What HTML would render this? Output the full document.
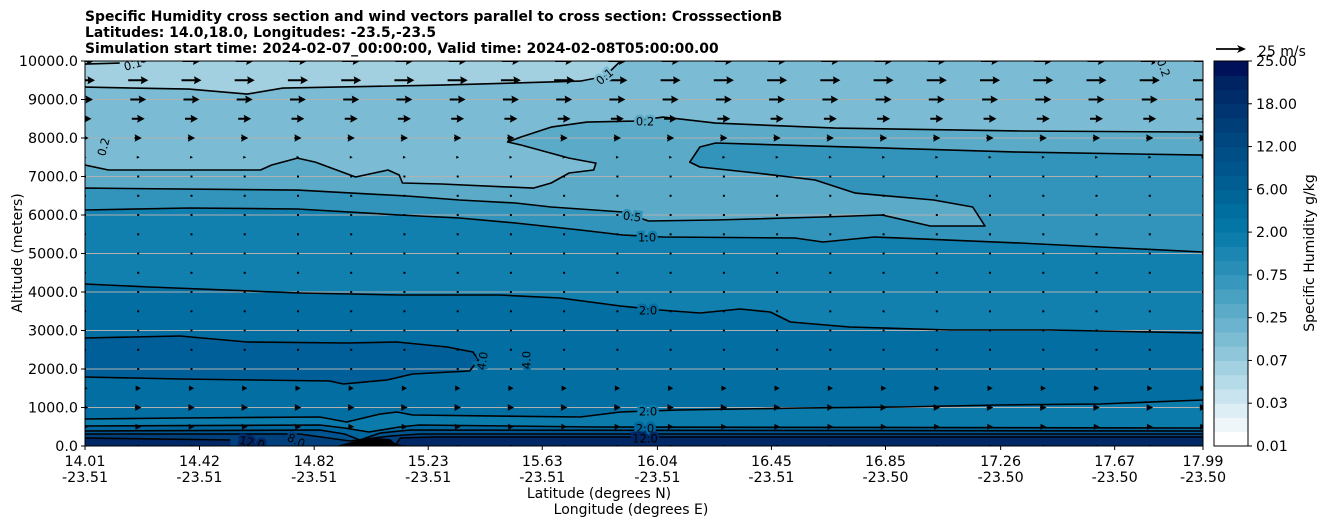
<!DOCTYPE html>
<html><head><meta charset="utf-8"><style>
html,body{margin:0;padding:0;background:#fff;width:1326px;height:526px;overflow:hidden}
svg{display:block;font-family:"DejaVu Sans","Liberation Sans",sans-serif}
</style></head><body>
<svg id="chart" width="1326" height="526" viewBox="0 0 1326 526" xmlns="http://www.w3.org/2000/svg">
<g font-size="13.9" font-weight="bold" fill="#000">
<text x="85" y="21">Specific Humidity cross section and wind vectors parallel to cross section: CrosssectionB</text>
<text x="85" y="37">Latitudes: 14.0,18.0, Longitudes: -23.5,-23.5</text>
<text x="85" y="53">Simulation start time: 2024-02-07_00:00:00, Valid time: 2024-02-08T05:00:00.00</text>
</g>
<defs><clipPath id="plotclip"><rect x="85" y="61" width="1118" height="385"/></clipPath></defs>
<g id="plot" clip-path="url(#plotclip)"></g>
<rect x="85" y="61" width="1118" height="385" fill="none" stroke="#000" stroke-width="1"/>
<g id="axes"></g>
<g id="cbar"></g>
<text x="599" y="498" font-size="14" text-anchor="middle">Latitude (degrees N)</text>
<text x="631" y="514" font-size="14" text-anchor="middle">Longitude (degrees E)</text>
<text transform="translate(22,253) rotate(-90)" font-size="14" text-anchor="middle">Altitude (meters)</text>
<text transform="translate(1314,253) rotate(-90)" font-size="14" text-anchor="middle">Specific Humidity g/kg</text>
<g>
<polygon points="1216,48.1 1239,48.1 1237,45 1246,49 1237,53 1239,49.9 1216,49.9" fill="#000"/>
<text x="1258" y="56" font-size="14">25 m/s</text>
</g>
</svg>
<script>
// ---- data ----
const yTicks = [0,1000,2000,3000,4000,5000,6000,7000,8000,9000,10000];
const xTickPos = [0,10.24,20.5,30.7,40.9,51.2,61.4,71.6,81.9,92.1,100];
const xTickLat = ["14.01","14.42","14.82","15.23","15.63","16.04","16.45","16.85","17.26","17.67","17.99"];
const xTickLon = ["-23.51","-23.51","-23.51","-23.51","-23.51","-23.51","-23.51","-23.50","-23.50","-23.50","-23.50"];
const cbarLevels = [0.01,0.015,0.02,0.03,0.04,0.05,0.07,0.1,0.2,0.25,0.3,0.5,0.75,1,1.5,2,3,4,6,8,10,12,14,16,18,20,22,25];
const cbarTickLabels = ["0.01","0.03","0.07","0.25","0.75","2.00","6.00","12.00","18.00","25.00"];
const cbarColors = ["#ffffff","#eef6f9","#ddeef4","#c9e4ee","#b6dbe8","#a3d1e1","#8fc6da","#7dbdd4","#6bb3ce","#5aaac8","#49a1c2","#3897bc","#288eb6","#1a86b1","#0d7eac","#0376a6","#006e9f","#006698","#005e92","#00568c","#004e86","#00467f","#003e78","#003571","#002c69","#002362","#00115a"];
// contour lines: [section %, altitude m]
const c01 = [[0,9323],[9.3,9271],[14.5,9141],[17.7,9297],[31.9,9375],[44.3,9479],[46.5,9600],[47.9,10000]];
const c01b = [[0,9920],[3.1,9946]];
const c02 = [[0,7298],[2.1,7168],[9.3,7168],[15.7,7168],[16.7,7298],[19.0,7479],[20.6,7375],[24.2,6986],[27.1,7168],[28.1,7038],[28.4,6830],[31.9,6804],[40.1,6700],[41.7,6830],[43.3,7090],[45.5,7168],[45.7,7349],[43.3,7479],[39.0,7817],[37.8,7895],[39.0,8025],[41.7,8284],[44.9,8414],[49.1,8440],[51.7,8544],[56.4,8388],[67.1,8258],[83.6,8181],[100,8154]];
const c05 = [[0,6700],[19,6648],[28.8,6493],[33.5,6389],[38.5,6311],[41.7,6207],[48.1,6077],[50.4,5843],[56.4,5869],[66.0,5947],[71.3,5999],[75.6,5713],[80.5,5713],[79.4,6207],[75.9,6389],[68.9,6570],[65.3,6908],[60.0,7090],[55.0,7246],[54.1,7375],[55.0,7765],[56.4,7869],[83.6,7635],[100,7557]];
const c10 = [[0,6129],[9.3,6181],[19,6155],[28.1,5999],[33.5,5921],[38.5,5791],[44.3,5610],[48.1,5480],[51.7,5428],[63.5,5402],[66.0,5298],[70.6,5428],[83.6,5272],[90.8,5168],[100,5038]];
const c20 = [[0,4207],[5.8,4129],[19.2,3973],[28.2,3921],[37.1,3921],[42.5,3844],[47.9,3636],[51.4,3532],[55.0,3454],[58.6,3558],[61.3,3480],[63.1,3220],[68.4,3090],[77.4,3013],[86.3,3013],[95.3,2961],[100,2935]];
const c40 = [[0,2805],[8.5,2857],[14.5,2701],[23.4,2675],[27.9,2701],[32.4,2571],[34.7,2441],[35.2,2233],[34.4,1948],[29.3,1870],[27.0,1714],[23.1,1610],[21.9,1688],[8.5,1740],[0,1792]];
const c20b = [[0,701],[8.5,727],[21.0,753],[23.4,623],[26.4,831],[27.9,883],[29.3,805],[44.3,753],[47.9,883],[53.2,935],[64.0,987],[72.9,1013],[81.8,1065],[90.8,1091],[100,1195]];
const cL1 = [[0,519],[21.0,545],[23.2,467],[25.4,363],[28.1,493],[29.9,545],[45.8,493],[100,467]];
const cL2 = [[0,389],[21.0,415],[23.2,311],[24.6,156],[26.4,337],[29.1,415],[100,389]];
const cL3 = [[0,311],[19.2,311],[23.7,130],[27.3,259],[30.0,311],[100,311]];
const cL4a = [[0,207],[13.0,156]];
const cL4b = [[27.7,0],[28.2,207],[31.0,234],[100,234]];
const terrain = [[22.4,0],[24.6,156],[25.9,208],[27.3,182],[27.7,78],[28.6,0]];
// wind vectors (m/s along section)
const windAlts = [10000,9500,9000,8500,8000,7500,7000,6500,6000,5500,5000,4500,4000,3500,3000,2500,2000,1500,1000,500,0];
const windSpeeds = [15,16.7,13.3,10.8,6,2.5,1.5,1,1,1,1,0.8,0.8,0.8,0.8,0.8,1.5,4.5,5.5,5,1];
const windCols = 22;
// ---- scales ----
const X = p => 85 + p*11.18;
const Y = a => 446 - a*0.0385;
const NS = "http://www.w3.org/2000/svg";
const plot = document.getElementById('plot');
function mk(tag, attrs, parent){const e=document.createElementNS(NS,tag);for(const k in attrs)e.setAttribute(k,attrs[k]);parent.appendChild(e);return e;}
const pts = arr => arr.map(d=>X(d[0]).toFixed(1)+","+Y(d[1]).toFixed(1)).join(" ");

// fills
let e;
e = mk('rect',{x:85,y:61,width:1118,height:385,fill:'#a3d0e1'},plot);


const fills = [
 [c01.concat([[100,10000],[100,0],[0,0]]),'#7bbbd4','fill-0.1-0.2'],
 [c02.concat([[100,0],[0,0]]),'#5aaac8','fill-0.2-0.5'],
 [c05.concat([[100,0],[0,0]]),'#3294bb','fill-0.5-1.0'],
 [c10.concat([[100,0],[0,0]]),'#1280af','fill-1.0-2.0'],
 [c20.concat([[100,0],[0,0]]),'#026ea2','fill-2.0-4.0'],
 [c40,'#005f98','fill-4.0-6.0'],
 [c20b.concat([[100,0],[0,0]]),'#0b7bab','fill-low-level'],
 [cL1.concat([[100,0],[0,0]]),'#00669e','fill-surface-1'],
 [cL2.concat([[100,0],[0,0]]),'#005590','fill-surface-2'],
 [cL3.concat([[100,0],[0,0]]),'#00417d','fill-surface-3'],
 [cL4b.concat([[100,0]]),'#002766','fill-surface-4b'],
 [cL4a.concat([[13,0],[0,0]]),'#002766','fill-surface-4a']
];
fills.forEach(f=>{
 const el = mk('polygon',{points:pts(f[0]),fill:f[1]},plot);
 
 
});
// gridlines
yTicks.forEach(t=>{
 const g = mk('line',{x1:85,x2:1203,y1:Y(t),y2:Y(t),stroke:'#b0b0b0','stroke-width':1},plot);
 
 
});
// wind arrows (pivot middle)
const pxPerMs = 1.2, w = 2, hl = 7.5, hal = 6.8, hw = 4;
windAlts.forEach((alt,ri)=>{
 const L = windSpeeds[ri]*pxPerMs;
 for(let k=0;k<windCols;k++){
  const xc = 85 + k*1118/(windCols-1), y0 = Y(alt);
  const x0 = xc - L/2;
  let p;
  if(L < 2){ p = [[xc-1,y0-1],[xc+1,y0-1],[xc+1,y0+1],[xc-1,y0+1]]; }
  else if(L < hl){ const s=L/hl; p=[[x0,y0-w/2*s],[x0+(L-hal*s),y0-w/2*s],[x0+L-hl*s,y0-hw*s],[x0+L,y0],[x0+L-hl*s,y0+hw*s],[x0+(L-hal*s),y0+w/2*s],[x0,y0+w/2*s]]; }
  else { p=[[x0,y0-w/2],[x0+L-hal,y0-w/2],[x0+L-hl,y0-hw],[x0+L,y0],[x0+L-hl,y0+hw],[x0+L-hal,y0+w/2],[x0,y0+w/2]]; }
  const a = mk('polygon',{points:p.map(q=>q[0].toFixed(1)+","+q[1].toFixed(1)).join(" "),fill:'#000'},plot);
  
  
 }
});
// contour lines
[[c01,'contour-0.1'],[c01b,'contour-0.1-top'],[c02,'contour-0.2'],[c05,'contour-0.5'],[c10,'contour-1.0'],[c20,'contour-2.0'],[c40,'contour-4.0'],[c20b,'contour-2.0-low'],[cL1,'contour-3.0'],[cL2,'contour-6.0'],[cL3,'contour-8.0'],[cL4a,'contour-12.0-left'],[cL4b,'contour-12.0-right']].forEach(c=>{
 const l = mk('polyline',{points:pts(c[0]),fill:'none',stroke:'#000','stroke-width':1.6,'stroke-linejoin':'round'},plot);
 
 
});
const t = mk('polygon',{points:pts(terrain),fill:'#000'},plot);


// contour labels
const clabels = [["0.1",605,77,-40,'#7bbbd4'],["0.2",645,122,0,'#5aaac8'],["0.2",104,147,-75,'#7bbbd4'],["0.5",632,217,8,'#3294bb'],["1.0",647,238,0,'#1280af'],["2.0",648,311,0,'#026ea2'],["4.0",483,361,-80,'#026ea2'],["4.0",527,360,-90,'#026ea2'],["2.0",648,412,0,'#0b7bab'],["2.0",645,429,0,'#00669e'],["12.0",252,443,12,'#002766'],["8.0",296,441,25,'#00417d'],["12.0",645,439,0,'#002766'],["0.1",133,65,-15,'#a3d0e1'],["0.2",1163,68,70,'#7bbbd4']];
clabels.forEach(c=>{
 const tx = mk('text',{x:0,y:0,transform:`translate(${c[1]},${c[2]}) rotate(${c[3]})`,'font-size':11.5,'text-anchor':'middle','dominant-baseline':'middle',fill:'#000',stroke:c[4],'stroke-width':5,'paint-order':'stroke'},plot);
 tx.textContent = c[0];
 
 
});
// axes
const axes = document.getElementById('axes');
yTicks.forEach(v=>{
 const y=Y(v);
 const tk=mk('line',{x1:81,x2:85,y1:y,y2:y,stroke:'#000'},axes);
 
 
 const tl=mk('text',{x:78,y:y+5,'font-size':14.3,'text-anchor':'end'},axes);
 tl.textContent=v.toFixed(1);
 
 
});
xTickPos.forEach((p,i)=>{
 const x=X(p);
 const tk=mk('line',{x1:x,x2:x,y1:446,y2:450,stroke:'#000'},axes);
 
 
 const tl=mk('text',{x:x,y:466,'font-size':14.3,'text-anchor':'middle'},axes);
 tl.textContent=xTickLat[i];
 
 
 const t2=mk('text',{x:x,y:482,'font-size':14.3,'text-anchor':'middle'},axes);
 t2.textContent=xTickLon[i];
 
 
});
// colorbar
const cb = document.getElementById('cbar');
const nb = cbarLevels.length-1, bh = 385/nb;
for(let i=0;i<nb;i++){
 const r=mk('rect',{x:1214,y:(446-(i+1)*bh).toFixed(2),width:34,height:(bh+0.5).toFixed(2),fill:cbarColors[i]},cb);
 
 
}
const cf=mk('rect',{x:1214,y:61,width:34,height:385,fill:'none',stroke:'#000'},cb);


cbarTickLabels.forEach((lab,i)=>{
 const y=446-i*3*bh;
 const tk=mk('line',{x1:1248,x2:1252,y1:y,y2:y,stroke:'#000'},cb);
 
 
 const tl=mk('text',{x:1256,y:y+5,'font-size':14.3},cb);
 tl.textContent=lab;
 
 
});
</script>
</body></html>
